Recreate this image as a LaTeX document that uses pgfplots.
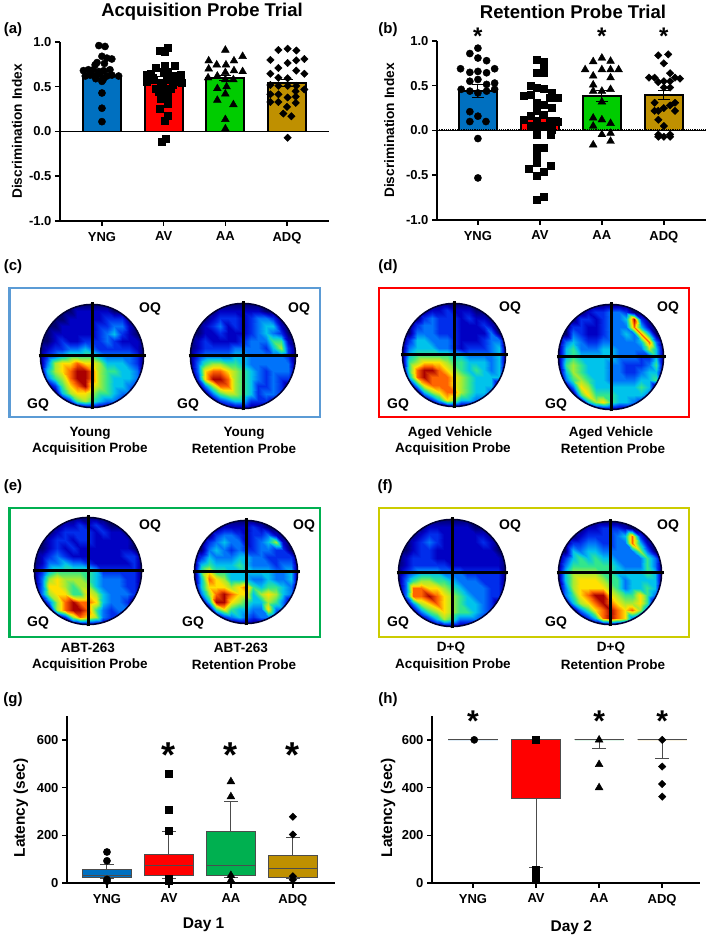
\documentclass[border=0pt]{standalone}
\usepackage{fontspec}
\setmainfont{Liberation Sans}
\usepackage{pgfplots}
\usepgfplotslibrary{statistics}
\pgfplotsset{compat=1.18}

\definecolor{cyng}{RGB}{0,112,192}
\definecolor{cav}{RGB}{255,0,0}
\definecolor{caa}{RGB}{0,204,0}
\definecolor{cadq}{RGB}{191,144,0}
\definecolor{caa2}{RGB}{0,176,80}
\definecolor{fc}{RGB}{91,155,213}
\definecolor{fe}{RGB}{0,176,80}
\definecolor{ff}{RGB}{204,204,0}

\pgfplotsset{
  colormap={track}{rgb255=(0,0,110) rgb255=(0,0,195) rgb255=(0,45,235) rgb255=(0,115,250)
    rgb255=(0,195,235) rgb255=(50,230,140) rgb255=(165,235,50) rgb255=(255,225,0)
    rgb255=(255,100,0) rgb255=(170,0,0)},
  panel/.style={
    scale only axis, clip=false,
    axis x line*=bottom, axis y line*=left,
    axis line style={-,line width=1.5pt},
    tick style={black,line width=1.5pt},
    tick align=outside, major tick length=5pt,
    xtick={0,1,2,3}, xticklabels={YNG,AV,AA,ADQ},
    ticklabel style={font=\fs{13}},
    xticklabel style={yshift=-2.5pt},
    /pgf/number format/assume math mode=true,
    label style={font=\fs{13.7}},
  },
  dots/.style={only marks,mark=*,mark size=3.6pt,black},
  squares/.style={only marks,mark=square*,mark size=3.5pt,black},
  tris/.style={only marks,mark=triangle*,mark size=4.5pt,black},
  dias/.style={only marks,mark=diamond*,mark size=3.7pt,black,mark options={xscale=1.35}},
  bar/.style={ybar,bar shift=0pt,bar width=38pt,draw=black,line width=1.8pt,fill=#1,
    error bars/.cd,y dir=both,y explicit,error bar style={black,line width=1pt},error mark options={black,line width=1pt,mark size=6pt,rotate=90}},
  bx/.style={boxplot prepared,draw=black!70,line width=1pt,fill=#1,solid},
  box setup/.style={boxplot/draw direction=y,boxplot/box extend=.78,boxplot/whisker extend=.22},
}

\newcommand\fs[1]{\fontsize{#1}{#1}\selectfont\bfseries}
\newcommand\lab[4]{\node[inner sep=0pt,font=\fs{#3}] at (#1,{938-#2}) {#4};}
\newcommand\stars[2]{\node[inner sep=0pt,font=\fs{#2}] at (axis cs:#1) {*};}

\newcount\hx
\newcount\hy
\makeatletter
% #1 centre x, #2 centre y (from the top), #3 radius, #4 15 rows of 15 digits, top row first
\newcommand\heatdisk[4]{%
  \def\hc{}\hx=0 \hy=14
  \@tfor\v:=#4\do{%
    \edef\hc{\hc (\the\hx,\the\hy,\v) }%
    \advance\hx 1
    \ifnum\hx=15 \hx=0 \advance\hy -1 \fi}%
  \pgfmathsetmacro\cy{938-#2}%
  \pgfmathsetlengthmacro\hw{2*#3}%
  \pgfmathsetlengthmacro\ax{#1-#3}%
  \pgfmathsetlengthmacro\ay{\cy-#3}%
  \begin{axis}[at={(\ax,\ay)},anchor=south west,scale only axis,width=\hw,height=\hw,
    hide axis,clip=false,view={0}{90},xmin=0,xmax=14,ymin=0,ymax=14,
    colormap name=track,point meta min=0,point meta max=9]
    \edef\tmp{\noexpand\addplot3[surf,shader=interp,mesh/cols=15] coordinates {\hc};}\tmp
  \end{axis}
  \fill[white,even odd rule] ({#1-#3-2},{\cy-#3-2}) rectangle ({#1+#3+2},{\cy+#3+2})
    (#1,\cy) circle [radius=#3];
  \draw[black!80!blue,line width=1.5pt] (#1,\cy) circle [radius={#3-.4}];
  \draw[black,line width=3pt] ({#1-#3-1.5},\cy) -- ({#1+#3+1.5},\cy)
    (#1,{\cy-#3-1.5}) -- (#1,{\cy+#3+1.5});
}
\makeatother

\begin{document}
\begin{tikzpicture}[x=1pt,y=1pt]
\useasboundingbox (0,0) rectangle (709,938);

% ---- (a)
\lab{202}{12}{18.5}{Acquisition Probe Trial}
\lab{13}{30}{15}{(a)}
\begin{axis}[panel,at={(60pt,717pt)},anchor=south west,width=269pt,height=179pt,
  xmin=-.68,xmax=3.68,ymin=-1,ymax=1,
  ytick={-1,-.5,0,.5,1},yticklabels={-1.0,-0.5,0.0,0.5,1.0},
  ylabel={Discrimination  Index},
  ylabel style={at={(axis description cs:-.16,.5)},anchor=center}]
  \addplot[bar=cyng] coordinates {(0,.62) +- (0,.03)};
  \addplot[bar=cav] coordinates {(1,.575) +- (0,.035)};
  \addplot[bar=caa] coordinates {(2,.60) +- (0,.03)};
  \addplot[bar=cadq] coordinates {(3,.545) +- (0,.04)};
  \addplot[black,line width=1.5pt] coordinates {(-.68,0) (3.68,0)};
  \addplot[dots] coordinates {(-.05,.96)(.05,.95)(0,.84)(.08,.82)(.16,.81)(-.08,.77)(-.11,.745)(.04,.76)(-.3,.68)(-.22,.69)(-.14,.69)(-.05,.67)(.03,.68)(.13,.69)(-.27,.62)(-.19,.63)(-.11,.62)(-.03,.64)(.08,.62)(.16,.63)(.27,.62)(-.1,.59)(.02,.58)(0,.56)(0,.43)(0,.26)(0,.11)};
  \addplot[squares] coordinates {(1.07,.94)(.94,.90)(1.01,.895)(1.18,.74)(1.01,.73)(.87,.71)(.79,.65)(1,.67)(1.06,.67)(1.28,.63)(.73,.63)(1.17,.62)(.73,.56)(.84,.58)(.95,.54)(1.06,.58)(1.17,.56)(1.3,.54)(.87,.48)(.98,.5)(1.11,.48)(1.06,.39)(.95,.37)(1.06,.31)(.94,.25)(1.06,.18)(1.01,.12)(1.04,-.08)(.97,-.11)(.82,.6)(1.14,.52)(.92,.44)(1.02,.44)};
  \addplot[tris] coordinates {(2,.91)(2.28,.84)(1.73,.79)(1.86,.745)(2.01,.745)(2.14,.79)(1.73,.70)(2.28,.67)(2.14,.68)(2,.66)(1.87,.62)(1.72,.6)(2,.58)(2.13,.58)(1.87,.48)(2.02,.5)(1.87,.35)(2,.42)(2.13,.30)(2,.135)(2,.03)};
  \addplot[dias] coordinates {(2.86,.91)(3.01,.925)(3.15,.905)(2.73,.80)(3.01,.765)(3.15,.795)(3.28,.81)(2.86,.71)(3.15,.68)(2.73,.645)(3.28,.645)(2.86,.60)(3.01,.595)(2.73,.52)(2.86,.51)(3.01,.51)(3.15,.51)(3.28,.47)(2.73,.415)(2.86,.415)(3.14,.45)(3.01,.38)(3.14,.39)(2.73,.33)(2.86,.33)(3.14,.32)(3,.275)(2.94,.2)(3.07,.17)(3.01,-.07)};
\end{axis}

% ---- (b)
\lab{573}{12}{18.5}{Retention Probe Trial}
\lab{388}{30}{15}{(b)}
\begin{axis}[panel,at={(437pt,718pt)},anchor=south west,width=269pt,height=179pt,
  xmin=-.66,xmax=3.68,ymin=-1,ymax=1,
  ytick={-1,-.5,0,.5,1},yticklabels={-1.0,-0.5,0.0,0.5,1.0},
  ylabel={Discrimination  Index},
  ylabel style={at={(axis description cs:-.178,.5)},anchor=center}]
  \addplot[bar=cyng] coordinates {(0,.44) +- (0,.07)};
  \addplot[bar=cav] coordinates {(1,.14) +- (0,.07)};
  \addplot[bar=caa] coordinates {(2,.385) +- (0,.065)};
  \addplot[bar=cadq] coordinates {(3,.40) +- (0,.05)};
  \addplot[black,line width=1.2pt] coordinates {(-.66,0) (3.68,0)};
  \addplot[black,line width=1.2pt,densely dotted] coordinates {(-.66,.012) (3.68,.012)};
  \addplot[dots] coordinates {(0,.92)(-.13,.86)(0,.81)(.14,.78)(-.28,.69)(-.13,.65)(0,.66)(.14,.645)(.27,.69)(-.13,.55)(0,.57)(.14,.515)(.27,.53)(-.27,.46)(-.13,.44)(0,.42)(.14,.44)(.27,.46)(-.13,.21)(0,.16)(-.13,.10)(.13,.10)(0,-.09)(0,-.53)};
  \addplot[squares] coordinates {(.95,.79)(1.06,.77)(1.06,.70)(.95,.65)(1.06,.65)(.85,.50)(.95,.48)(1.06,.465)(.74,.39)(.85,.4)(1.19,.42)(1.28,.365)(1.16,.365)(.95,.31)(1.06,.29)(1.19,.25)(.95,.22)(.85,.16)(1.06,.18)(.74,.12)(1.28,.10)(.95,.10)(1.16,.09)(.85,.05)(.95,.03)(1.06,.05)(1.19,.01)(.95,-.045)(1.17,-.045)(1.06,-.19)(.95,-.19)(.95,-.27)(.82,-.43)(.95,-.36)(1.17,-.39)(1.06,-.46)(.95,-.51)(1.06,-.74)(.95,-.77)};
  \addplot[tris] coordinates {(2,.81)(1.86,.77)(2.14,.775)(1.73,.68)(2,.68)(2.14,.68)(2.27,.68)(1.86,.61)(2.14,.59)(1.86,.51)(1.86,.44)(2,.44)(2.14,.46)(2,.32)(1.86,.14)(2,.12)(1.86,.05)(2.14,.08)(2,-.045)(2.14,-.03)(2.14,-.12)(1.86,-.16)};
  \addplot[dias] coordinates {(2.91,.84)(3.07,.85)(3,.75)(3.1,.64)(2.76,.59)(2.85,.59)(3.18,.59)(3.26,.58)(2.91,.54)(3,.55)(3.1,.55)(3,.48)(3.1,.48)(2.85,.31)(3.18,.31)(3,.25)(3.1,.28)(2.85,.22)(2.91,.22)(3.18,.22)(2.91,.12)(3,.05)(2.91,-.045)(3.1,-.045)(3,-.07)(3.1,-.07)(2.91,-.07)};
  \stars{0,1.05}{24}\stars{2,1.05}{24}\stars{3,1.05}{24}
\end{axis}

% ---- (c)
\lab{13}{267}{15}{(c)}
\draw[fc,line width=2.8pt] (9.5,{938-288}) rectangle (320,{938-417});
\heatdisk{92}{356}{52}{
000000000000000
000001111100000
000011111222000
000111112233100
001111112342100
001211222321110
012233432222210
023455554333320
036778776444320
046789986554430
035689986544430
002578976544320
000467765543300
000025654332000
000000000000000}
\heatdisk{243}{356}{53}{
000000000000000
000011111100000
000122212332000
001231212344100
001121112343200
012111123335510
012222333324620
023333443333320
035665543333330
037887654323330
027998654323220
003688654223200
000356654233200
000023442221000
000000000000000}
\lab{38}{405}{14}{GQ}\lab{150}{309}{14}{OQ}
\lab{188}{405}{14}{GQ}\lab{299}{309}{14}{OQ}
\lab{90}{433}{13.5}{Young}\lab{90}{449}{13.5}{Acquisition  Probe}
\lab{244}{433}{13.5}{Young}\lab{244}{449}{13.5}{Retention Probe}

% ---- (d)
\lab{388}{267}{15}{(d)}
\draw[cav,line width=2.8pt] (379,{938-288}) rectangle (689,{938-417});
\heatdisk{454}{355}{52}{
000000000000000
000011211100000
000232221211000
002332221112100
003332221111300
024433321112330
034443321222340
045555544333340
056777655444340
058998765454340
048988876544440
004788876544400
000467886544300
000024764433000
000000000000000}
\heatdisk{611}{357}{53}{
000000000000000
000012233200000
000221233492000
002211233384100
003211233438400
034322333334830
045333443333640
045444443332240
056544433222350
046544433223440
035654433334450
003764444445400
000575554444300
000046754432000
000000000000000}
\lab{398}{405}{14}{GQ}\lab{510}{308}{14}{OQ}
\lab{556}{405}{14}{GQ}\lab{668}{308}{14}{OQ}
\lab{450}{433}{13.5}{Aged  Vehicle}\lab{453}{449}{13.5}{Acquisition  Probe}
\lab{611}{433}{13.5}{Aged  Vehicle}\lab{613}{449}{13.5}{Retention Probe}

% ---- (e)
\lab{13}{487}{15}{(e)}
\draw[fe,line width=2.8pt] (9.5,{938-508}) rectangle (320,{938-637});
\heatdisk{88}{571}{54}{
000000000000000
000011212100000
000122221211000
001221221111100
001212111111100
012321111111220
013343321111120
024555554222220
036766654333220
037765664333220
036775576433320
003689887433200
000689985323300
000026876322000
000000000000000}
\heatdisk{246}{572}{52}{
000000000000000
000011112100000
000233212231000
002343312346100
003432322332200
024333443322220
045444543332330
057554444443340
048764443343340
047776785455430
036898774676430
004997654465300
000575443373300
000023432332000
000000000000000}
\lab{38}{623}{14}{GQ}\lab{150}{526}{14}{OQ}
\lab{193}{623}{14}{GQ}\lab{304}{526}{14}{OQ}
\lab{88}{648}{13.5}{ABT-263}\lab{90}{665}{13.5}{Acquisition  Probe}
\lab{241}{648}{13.5}{ABT-263}\lab{244}{665}{13.5}{Retention Probe}

% ---- (f)
\lab{385}{487}{15}{(f)}
\draw[ff,line width=2.8pt] (379,{938-508}) rectangle (689,{938-637});
\heatdisk{452}{573}{54}{
000000000000000
000011111100000
000122111111000
001232111112100
001221111111100
012221111111110
012222211111110
023444333222220
035665543332220
038877654333220
038898765433220
003678765443200
000356765543200
000024653332000
000000000000000}
\heatdisk{610}{573}{52}{
000000000000000
000011222100000
000122223482000
002233223384100
004344333336300
024545443333530
035555554333530
046666554444540
046777655344440
036777765344540
035789976557530
004678987667500
000357898786300
000024898732000
000000000000000}
\lab{398}{623}{14}{GQ}\lab{510}{526}{14}{OQ}
\lab{556}{623}{14}{GQ}\lab{668}{526}{14}{OQ}
\lab{451}{648}{13.5}{D+Q}\lab{453}{665}{13.5}{Acquisition  Probe}
\lab{611}{648}{13.5}{D+Q}\lab{613}{665}{13.5}{Retention Probe}

% ---- (g)
\lab{13}{700}{15}{(g)}
\begin{axis}[panel,box setup,at={(67pt,55pt)},anchor=south west,width=268pt,height=167pt,
  xmin=-.645,xmax=3.68,ymin=0,ymax=700,ytick={0,200,400,600},
  xlabel={Day 1},ylabel={Latency (sec)},
  label style={font=\fs{15.5}},
  xlabel style={at={(axis description cs:.51,-.25)},anchor=center},
  ylabel style={at={(axis description cs:-.172,.45)},anchor=center}]
  \addplot[bx=cyng,boxplot prepared={draw position=0,lower whisker=18,lower quartile=21,median=32,upper quartile=57,upper whisker=77}] coordinates {};
  \addplot[bx=cav,boxplot prepared={draw position=1,lower whisker=18,lower quartile=30,median=74,upper quartile=119,upper whisker=216}] coordinates {};
  \addplot[bx=caa2,boxplot prepared={draw position=2,lower whisker=25,lower quartile=32,median=74,upper quartile=216,upper whisker=340}] coordinates {};
  \addplot[bx=cadq,boxplot prepared={draw position=3,lower whisker=18,lower quartile=25,median=59,upper quartile=116,upper whisker=192}] coordinates {};
  \addplot[dots] coordinates {(0,130)(0,93)(0,15)(0,8)};
  \addplot[squares] coordinates {(1,460)(1,308)(1,219)(1,20)(1,10)};
  \addplot[tris] coordinates {(2,425)(2,362)(2,32)(2,12)};
  \addplot[dias] coordinates {(3,278)(3,203)(3,28)(3,14)};
  \stars{1,535}{36}\stars{2,535}{36}\stars{3,535}{36}
\end{axis}

% ---- (h)
\lab{388}{700}{15}{(h)}
\begin{axis}[panel,box setup,at={(432pt,55pt)},anchor=south west,width=268pt,height=167pt,
  xmin=-.65,xmax=3.6,ymin=0,ymax=700,ytick={0,200,400,600},
  xlabel={Day 2},ylabel={Latency (sec)},
  label style={font=\fs{15.5}},
  xlabel style={at={(axis description cs:.52,-.265)},anchor=center},
  ylabel style={at={(axis description cs:-.164,.45)},anchor=center}]
  \addplot[bx=cyng,boxplot prepared={draw position=0,lower whisker=600,lower quartile=600,median=600,upper quartile=600,upper whisker=600}] coordinates {};
  \addplot[bx=cav,boxplot prepared={draw position=1,lower whisker=63,lower quartile=356,median=600,upper quartile=600,upper whisker=600}] coordinates {};
  \addplot[bx=caa2,boxplot prepared={draw position=2,lower whisker=565,lower quartile=600,median=600,upper quartile=600,upper whisker=600}] coordinates {};
  \addplot[bx=cadq,boxplot prepared={draw position=3,lower whisker=523,lower quartile=600,median=600,upper quartile=600,upper whisker=600}] coordinates {};
  \addplot[dots] coordinates {(.02,600)};
  \addplot[squares] coordinates {(1,600)(1,55)(1,40)(1,25)(1,15)};
  \addplot[tris] coordinates {(2,600)(2,497)(2,400)};
  \addplot[dias] coordinates {(3,600)(3,488)(3,415)(3,362)};
  \stars{0,680}{30}\stars{2,680}{30}\stars{3,680}{30}
\end{axis}
\end{tikzpicture}
\end{document}
